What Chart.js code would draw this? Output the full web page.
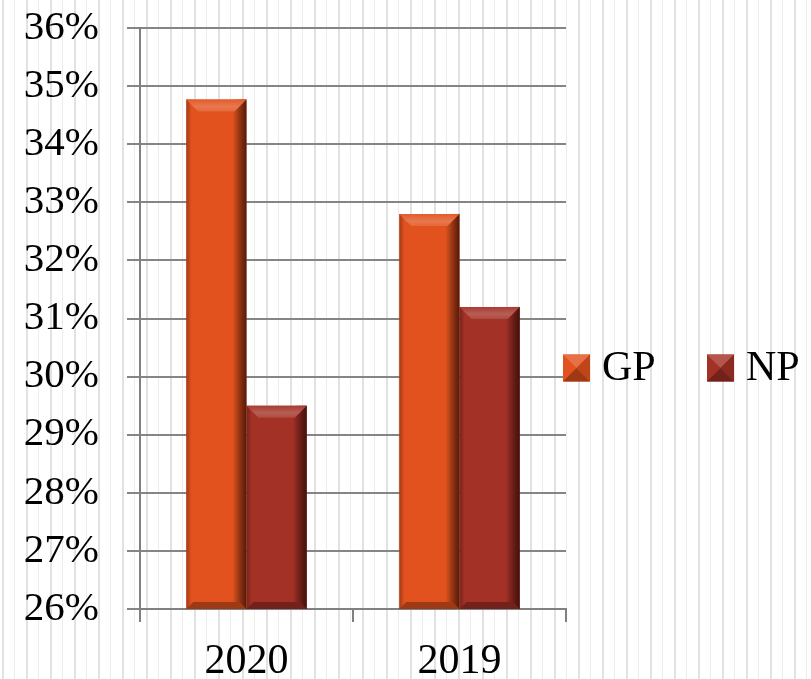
<!DOCTYPE html>
<html>
<head>
<meta charset="utf-8">
<script src="https://cdn.jsdelivr.net/npm/chart.js@4"></script>
<style>
html,body{margin:0;padding:0;background:#fff;}
#wrap{width:811px;height:679px;position:relative;}
</style>
</head>
<body>
<div id="wrap"><canvas id="c" width="811" height="679"></canvas></div>
<script>
const categories = ['2020', '2019'];
const gpValues = [34.77, 32.8];
const npValues = [29.5, 31.2];
const seriesNames = ['GP', 'NP'];
const seriesColors = ['#E2521F', '#A33126'];
const yMin = 26, yMax = 36, yStep = 1;

const FONT = "'Liberation Serif', 'Times New Roman', serif";

function shade(hex, f) {
  const n = parseInt(hex.slice(1), 16);
  let r = (n >> 16) & 255, g = (n >> 8) & 255, b = n & 255;
  if (f >= 0) { r += (255 - r) * f; g += (255 - g) * f; b += (255 - b) * f; }
  else { r *= (1 + f); g *= (1 + f); b *= (1 + f); }
  return `rgb(${Math.round(r)},${Math.round(g)},${Math.round(b)})`;
}

const stripes = {
  id: 'stripes',
  beforeDraw(chart) {
    const ctx = chart.ctx;
    ctx.save();
    ctx.fillStyle = '#ffffff';
    ctx.fillRect(0, 0, chart.width, chart.height);
    for (let x = 2; x < chart.width; x += 24) {
      ctx.fillStyle = '#e2e2e2';
      ctx.fillRect(x, 0, 2, chart.height);
      ctx.fillStyle = '#ececec';
      ctx.fillRect(x + 12, 0, 1, chart.height);
    }
    ctx.restore();
  }
};

const bevel = {
  id: 'bevel',
  afterDatasetsDraw(chart) {
    const ctx = chart.ctx;
    const area = chart.chartArea;
    chart.data.datasets.forEach((ds, di) => {
      const meta = chart.getDatasetMeta(di);
      const col = seriesColors[di];
      meta.data.forEach(bar => {
        const w = bar.width;
        const L = bar.x - w / 2, R = bar.x + w / 2, T = bar.y;
        const B = Math.min(bar.base, area.bottom);
        const b = 12;
        ctx.save();
        let g = ctx.createLinearGradient(R - 14, 0, R, 0);
        g.addColorStop(0, 'rgba(0,0,0,0)');
        g.addColorStop(1, 'rgba(40,5,0,0.75)');
        ctx.fillStyle = g;
        ctx.fillRect(R - 14, T, 14, B - T);
        g = ctx.createLinearGradient(L, 0, L + 5, 0);
        g.addColorStop(0, 'rgba(60,10,0,0.35)');
        g.addColorStop(1, 'rgba(0,0,0,0)');
        ctx.fillStyle = g;
        ctx.fillRect(L, T, 5, B - T);
        ctx.beginPath();
        ctx.moveTo(L, T); ctx.lineTo(R, T); ctx.lineTo(R - b, T + b); ctx.lineTo(L + b, T + b); ctx.closePath();
        g = ctx.createLinearGradient(0, T, 0, T + b);
        g.addColorStop(0, shade(col, 0.05));
        g.addColorStop(0.6, shade(col, 0.22));
        g.addColorStop(1, shade(col, 0.12));
        ctx.fillStyle = g;
        ctx.fill();
        const bb = 7;
        ctx.beginPath();
        ctx.moveTo(L, B); ctx.lineTo(R, B); ctx.lineTo(R - bb, B - bb); ctx.lineTo(L + bb, B - bb); ctx.closePath();
        ctx.fillStyle = shade(col, -0.3);
        ctx.fill();
        ctx.restore();
      });
    });
  }
};

const legendPlugin = {
  id: 'customLegend',
  afterDraw(chart) {
    const ctx = chart.ctx;
    const cy = 368;
    const items = [{x: 563}, {x: 707}];
    ctx.save();
    chart.data.datasets.forEach((ds, i) => {
      const x = items[i].x, s = 27, y = cy - s / 2;
      const col = seriesColors[i];
      const cx = x + s / 2, cyy = y + s / 2;
      ctx.fillStyle = col;
      ctx.fillRect(x, y, s, s);
      ctx.beginPath(); ctx.moveTo(x, y); ctx.lineTo(x + s, y); ctx.lineTo(cx, cyy); ctx.closePath();
      ctx.fillStyle = shade(col, 0.18); ctx.fill();
      ctx.beginPath(); ctx.moveTo(x, y + s); ctx.lineTo(x + s, y + s); ctx.lineTo(cx, cyy); ctx.closePath();
      ctx.fillStyle = shade(col, -0.3); ctx.fill();
      ctx.beginPath(); ctx.moveTo(x + s, y); ctx.lineTo(x + s, y + s); ctx.lineTo(cx, cyy); ctx.closePath();
      ctx.fillStyle = shade(col, -0.15); ctx.fill();
      ctx.fillStyle = '#000';
      ctx.font = '42px ' + FONT;
      ctx.textBaseline = 'middle';
      ctx.textAlign = 'left';
      ctx.fillText(ds.label, x + s + 12, cy + 1);
    });
    ctx.restore();
  }
};

new Chart(document.getElementById('c'), {
  type: 'bar',
  data: {
    labels: categories,
    datasets: [
      { label: seriesNames[0], data: gpValues, backgroundColor: seriesColors[0], borderWidth: 0 },
      { label: seriesNames[1], data: npValues, backgroundColor: seriesColors[1], borderWidth: 0 }
    ]
  },
  options: {
    responsive: false,
    animation: false,
    devicePixelRatio: 1,
    layout: { padding: { top: 28, right: 245, left: 0, bottom: 0 } },
    plugins: { legend: { display: false }, tooltip: { enabled: false } },
    datasets: { bar: { categoryPercentage: 0.566, barPercentage: 1.0 } },
    scales: {
      x: {
        grid: { display: true, offset: true, drawOnChartArea: false, tickLength: 13, color: '#808080', lineWidth: 2 },
        border: { display: true, color: '#808080', width: 2 },
        ticks: { color: '#000', font: { family: FONT, size: 42 }, padding: 15 },
        afterFit(scale) { scale.height = 70; scale.paddingLeft = 0; scale.paddingRight = 0; }
      },
      y: {
        min: yMin, max: yMax,
        grid: { color: '#858585', lineWidth: 2, tickLength: 13 },
        border: { display: true, color: '#808080', width: 2 },
        ticks: {
          stepSize: yStep, color: '#000', padding: 28,
          font: { family: FONT, size: 41 },
          callback: v => v + '%'
        },
        afterFit(scale) { scale.width = 140; scale.paddingTop = 0; scale.paddingBottom = 0; }
      }
    }
  },
  plugins: [stripes, bevel, legendPlugin]
});
</script>
</body>
</html>
